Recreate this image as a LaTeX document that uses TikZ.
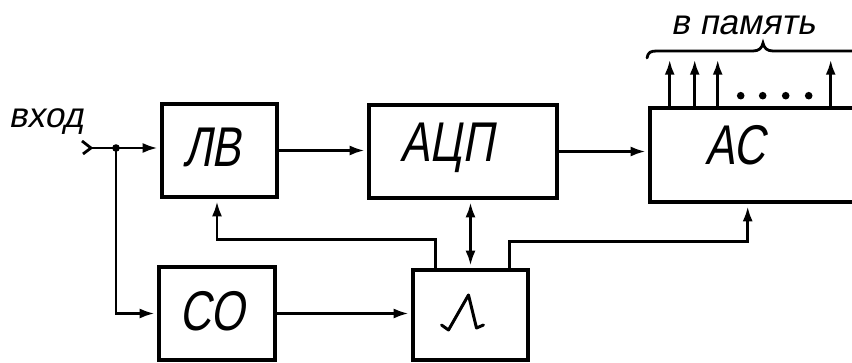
\documentclass[tikz,border=0pt]{standalone}
\usepackage{fontspec}
\setmainfont{Liberation Sans}
\newfontfamily\hand[FakeSlant=0.18,FakeStretch=0.78]{Liberation Sans}
\newfontfamily\handlow[FakeSlant=0.2]{Liberation Sans}
\usetikzlibrary{arrows.meta,calc}
\tikzset{
  blk/.style={draw=black, line width=4.6pt, rectangle, inner sep=0pt, fill=white},
  lbl/.style={inner sep=0pt, font=\hand\fontsize{56}{56}\selectfont},
  small/.style={inner sep=0pt, font=\handlow\fontsize{35}{35}\selectfont},
  conn/.style={draw=black, line width=2.8pt},
  tip/.style={-{Latex[length=15pt,width=10pt]}, shorten >=2pt},
  dtip/.style={{Latex[length=15pt,width=10pt]}-{Latex[length=15pt,width=10pt]}, shorten >=2pt, shorten <=2pt}
}
\begin{document}
\begin{tikzpicture}[x=1pt,y=-1pt]
\clip (0,0) rectangle (852,363);
\fill[white] (0,0) rectangle (852,363);
% blocks
\node[blk, minimum width=115pt, minimum height=93pt] (lv) at (219.5,150.5) {};
\node[blk, minimum width=188pt, minimum height=93pt] (acp) at (463,151.5) {};
\node[blk, minimum width=250pt, minimum height=94pt] (ac) at (775,155) {};
\node[blk, minimum width=116pt, minimum height=93pt] (co) at (217,313.5) {};
\node[blk, minimum width=115pt, minimum height=90pt] (lam) at (470.5,315) {};
% labels
\node[lbl] (tlv) at (212,147) {ЛВ};
\node[lbl] (tacp) at (447,148) {АЦП};
\node[lbl] (tac) at (735,145) {АС};
\node[lbl] (tco) at (212,311) {СО};
\node[small] (tin) at (46,122) {вход};
\node[small] (tmem) at (743,25) {в память};
% pulse symbol
\draw[line width=3pt, line cap=round, line join=round]
  ($(lam.center)+(-29,10)$) -- ($(lam.center)+(-22,15)$) -- ($(lam.center)+(-2,-20)$)
  -- ($(lam.center)+(6,13)$) -- ($(lam.center)+(13,10)$);
% input
\coordinate (inp) at (91,148);
\coordinate (j) at (116,148);
\draw[line width=2.8pt, line join=round] (82,141) -- (inp) -- (83,154);
\draw[conn, tip] (inp) -- (lv.west |- inp);
\fill (j) circle (3.8pt);
\draw[conn, tip] (j) |- (co.west);
% forward chain
\draw[conn, tip] (lv.east) -- (lv.east -| acp.west);
\draw[conn, tip] (acp.east) -- (acp.east -| ac.west);
\draw[conn, tip] (co.east) -- (co.east -| lam.west);
% feedback
\draw[conn, tip] ([xshift=25pt]lam.north west) -- ++(0,-28) -| ([xshift=-2.5pt]lv.south);
\draw[conn, dtip] (lam.north |- acp.south) -- (lam.north);
\draw[conn, tip] ([xshift=-21pt]lam.north east) -- ++(0,-26) -| ([xshift=100pt]ac.south west);
% outputs to memory
\foreach \dx in {22,47,70,183}
  \draw[conn, tip] ([xshift=\dx pt]ac.north west) -- ++(0,-48);
\foreach \dx in {93,115,138,161}
  \fill ($(ac.north west)+(\dx,-10)$) circle (3.8pt);
% brace
\draw[line width=2.8pt, line cap=round]
  (647,58) .. controls (648,52) and (651,51) .. (657,51) -- (753,51)
  .. controls (759,51) and (762,48) .. (763,43)
  .. controls (764,48) and (767,51) .. (773,51) -- (900,51);
\end{tikzpicture}
\end{document}
